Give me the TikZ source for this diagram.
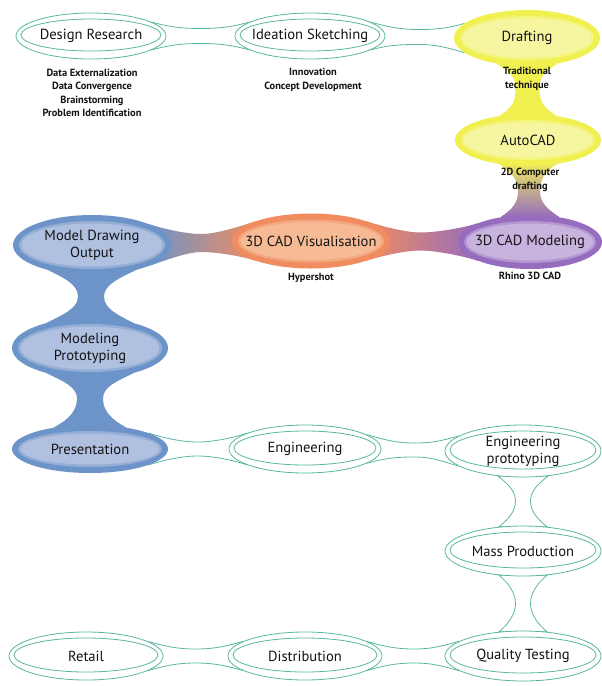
\documentclass[tikz,border=0pt]{standalone}
\usepackage{fontspec}
\setmainfont{PT Sans}
\usetikzlibrary{shapes.geometric,calc,backgrounds}
\definecolor{tealc}{RGB}{88,183,160}
\definecolor{blueO}{RGB}{108,148,200}
\definecolor{blueI}{RGB}{176,192,224}
\definecolor{orangeO}{RGB}{240,140,96}
\definecolor{orangeI}{RGB}{246,186,148}
\definecolor{purpleO}{RGB}{150,108,190}
\definecolor{purpleI}{RGB}{200,178,222}
\definecolor{yellowO}{RGB}{240,240,80}
\definecolor{yellowI}{RGB}{246,246,160}
\definecolor{neckTan}{RGB}{215,200,150}
\definecolor{txt}{RGB}{20,20,20}

\tikzset{
 labtxt/.style={font=\fontsize{14.6}{17}\selectfont, text=txt, align=center, inner sep=0pt},
 subtxt/.style={font=\bfseries\fontsize{10.4}{13.5}\selectfont, text=txt, align=center, inner sep=0pt},
 ring/.style 2 args={ellipse, draw=tealc, line width=0.8pt, fill=white,
   minimum width=#1, minimum height=#2, inner sep=0pt,
   path picture={\draw[tealc, line width=0.8pt] ($(path picture bounding box.center)+(0,-1)$)
     ellipse [x radius={(#1/2-5)*1pt}, y radius={(#2/2-7)*1pt}];}},
 blob/.style n args={4}{ellipse, fill=#3, minimum width=#1, minimum height=#2, inner sep=0pt,
   path picture={\fill[#3!40!#4] (path picture bounding box.center)
       ellipse [x radius={(#1/2-6)*1pt}, y radius={(#2/2-6)*1pt}];
     \fill[#4] (path picture bounding box.center)
       ellipse [x radius={(#1/2-8.5)*1pt}, y radius={(#2/2-8.5)*1pt}];}},
 neckline/.style={draw=tealc, line width=0.8pt},
}

% horizontal neck: [opts]{left}{right}{angle}{halfgap}{along}{inward}{mid}
\newcommand\hneck[8][]{%
 \pgfmathtruncatemacro\nA{#4}\pgfmathtruncatemacro\nAn{-(#4)}%
 \pgfmathtruncatemacro\nB{180-(#4)}\pgfmathtruncatemacro\nBn{180+(#4)}%
 \path[#1] (#2.\nA) .. controls +(#6,#7) and +(-#8,0) .. ($(#2)!.5!(#3)+(0,-#5)$)
  .. controls +(#8,0) and +(-#6,#7) .. (#3.\nB) -- (#3.\nBn)
  .. controls +(-#6,-#7) and +(#8,0) .. ($(#2)!.5!(#3)+(0,#5)$)
  .. controls +(-#8,0) and +(#6,-#7) .. (#2.\nAn) -- cycle;}
% vertical neck: [opts]{top}{bottom}{angle}{halfgap}{along}{inward}{mid}
\newcommand\vneck[8][]{%
 \pgfmathtruncatemacro\nA{-90+(#4)}\pgfmathtruncatemacro\nAn{-90-(#4)}%
 \pgfmathtruncatemacro\nB{90-(#4)}\pgfmathtruncatemacro\nBn{90+(#4)}%
 \path[#1] (#2.\nA) .. controls +(-#7,#6) and +(0,-#8) .. ($(#2)!.5!(#3)+(#5,0)$)
  .. controls +(0,#8) and +(-#7,-#6) .. (#3.\nB) -- (#3.\nBn)
  .. controls +(#7,-#6) and +(0,#8) .. ($(#2)!.5!(#3)+(-#5,0)$)
  .. controls +(0,-#8) and +(#7,#6) .. (#2.\nAn) -- cycle;}

\begin{document}
\begin{tikzpicture}[x=1pt,y=-1pt]
\useasboundingbox (0,0) rectangle (602,686);

% top row
\node[ring={150}{46}, label={[labtxt]center:Design Research}] (dr) at (91,36) {};
\node[ring={150}{46}, label={[labtxt]center:Ideation Sketching}] (is) at (310,36) {};
\node[blob={146}{56}{yellowO}{yellowI}, label={[labtxt]center:Drafting}] (dft) at (527,38) {};
\node[blob={146}{52}{yellowO}{yellowI}, label={[labtxt]center:AutoCAD}] (acd) at (528,140) {};

% middle row
\node[blob={144}{54}{purpleO}{purpleI}, label={[labtxt]center:3D CAD Modeling}] (cm) at (530,242) {};
\node[blob={158}{55}{orangeO}{orangeI}, label={[labtxt]center:3D CAD Visualisation}] (cv) at (311,241) {};
\node[blob={158}{60}{blueO}{blueI}, label={[labtxt]center:Model Drawing\\Output}] (mdo) at (92,245) {};
\node[blob={156}{60}{blueO}{blueI}, label={[labtxt]center:Modeling\\Prototyping}] (mp) at (90,348) {};
\node[blob={156}{48}{blueO}{blueI}, label={[labtxt]center:Presentation}] (pr) at (90,449) {};

% lower rows
\node[ring={152}{48}, label={[labtxt]center:Engineering}] (eng) at (305,449) {};
\node[ring={156}{52}, label={[labtxt]center:Engineering\\prototyping}] (ep) at (523,451) {};
\node[ring={156}{50}, label={[labtxt]center:Mass Production}] (mpr) at (523,551) {};
\node[ring={156}{50}, label={[labtxt]center:Quality Testing}] (qt) at (523,656) {};
\node[ring={154}{48}, label={[labtxt]center:Distribution}] (dis) at (305,656) {};
\node[ring={154}{48}, label={[labtxt]center:Retail}] (ret) at (86,656) {};

% sub texts
\node[subtxt] (drs) at (92,93) {Data Externalization\\Data Convergence\\Brainstorming\\Problem Identification};
\node[subtxt] (iss) at (313,80) {Innovation\\Concept Development};
\node[subtxt] (dfts) at (527,79) {Traditional\\technique};
\node[subtxt] (acds) at (530,180) {2D Computer\\drafting};
\node[subtxt] (cvs) at (311,278) {Hypershot};
\node[subtxt] (cms) at (530,276) {Rhino 3D CAD};

\begin{pgfonlayer}{background}
 \hneck[neckline]{dr}{is}{13}{7.5}{18}{5}{18}
 \hneck[neckline]{is}{dft}{13}{7.5}{18}{5}{18}
 \vneck[fill=yellowO]{dft}{acd}{50}{12}{8}{12}{14}
 \vneck[top color=yellowO!80!neckTan, bottom color=purpleO]{acd}{cm}{50}{11}{8}{12}{12}
 \hneck[left color=orangeO, right color=purpleO]{cv}{cm}{20}{9}{15}{5}{15}
 \hneck[left color=blueO, right color=orangeO]{mdo}{cv}{20}{9}{15}{5}{15}
 \vneck[fill=blueO]{mdo}{mp}{60}{13}{8}{16}{12}
 \vneck[fill=blueO]{mp}{pr}{60}{13}{8}{16}{12}
 \hneck[neckline]{pr}{eng}{15}{7}{15}{5}{15}
 \hneck[neckline]{eng}{ep}{13}{7}{18}{5}{18}
 \vneck[neckline]{ep}{mpr}{45}{7.5}{8}{10}{10}
 \vneck[neckline]{mpr}{qt}{45}{7.5}{8}{10}{10}
 \hneck[neckline]{dis}{qt}{13}{7}{18}{5}{18}
 \hneck[neckline]{ret}{dis}{13}{7}{18}{5}{18}
\end{pgfonlayer}
\end{tikzpicture}
\end{document}
